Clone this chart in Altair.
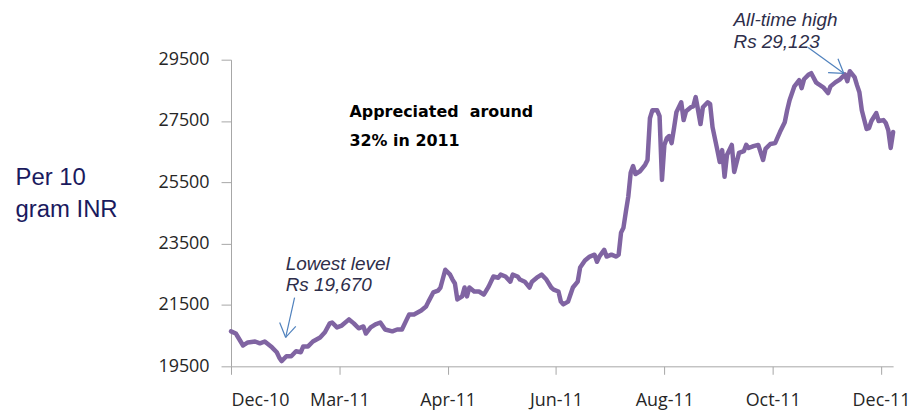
import json
import altair as alt
import pandas as pd

# trading-day index (category position) and gold price, Rs per 10 gram
days = [0, 2, 5, 7, 10, 12, 14, 17, 19, 20, 21, 23, 25, 27, 29, 30, 32, 34, 37, 39,
        41, 42, 44, 46, 49, 51, 53, 55, 56, 58, 60, 62, 64, 67, 69, 71, 73, 74, 76, 79,
        81, 82, 84, 86, 87, 89, 91, 92, 93, 94, 96, 97, 98, 99, 101, 103, 105, 107, 109, 111,
        112, 114, 116, 117, 119, 120, 122, 124, 125, 127, 129, 131, 133, 134, 136, 137, 138, 140, 141, 142,
        144, 145, 147, 149, 151, 152, 153, 155, 156, 158, 160, 161, 162, 163, 164, 165, 166, 167, 168, 170,
        172, 173, 174, 175, 177, 178, 179, 180, 181, 182, 183, 184, 185, 187, 188, 189, 191, 192, 193, 194,
        195, 196, 198, 199, 200, 202, 203, 204, 205, 206, 208, 209, 211, 213, 214, 215, 217, 219, 221, 222,
        224, 226, 228, 230, 231, 232, 234, 236, 237, 238, 240, 241, 243, 244, 246, 248, 249, 251, 253, 255,
        256, 257, 259, 260, 261, 262, 264, 265, 266, 268, 269, 271, 272, 273, 274, 275]
prices = [20640, 20570, 20180, 20280, 20310, 20250, 20310, 20120, 19960, 19790, 19670, 19830, 19830, 19990, 19960, 20150, 20150, 20310, 20440, 20610,
          20900, 20930, 20770, 20830, 21030, 20900, 20740, 20800, 20570, 20770, 20870, 20930, 20700, 20640, 20700, 20700, 21030, 21190, 21190, 21320,
          21450, 21610, 21910, 21970, 22070, 22650, 22490, 22330, 22200, 21680, 21780, 22070, 21780, 22070, 21940, 21940, 21840, 22100, 22430, 22390,
          22490, 22430, 22260, 22490, 22430, 22330, 22260, 22070, 22260, 22390, 22490, 22330, 22070, 22000, 21940, 21610, 21520, 21610, 21840, 22070,
          22260, 22720, 22950, 23080, 23140, 22910, 23080, 23300, 23080, 23140, 23080, 23140, 23860, 24020, 24540, 25030, 25810, 26030, 25770, 25870,
          26070, 26230, 27590, 27850, 27850, 27660, 25580, 26720, 26940, 27010, 26780, 27270, 27790, 28110, 27530, 27820, 27950, 27980, 28280, 27850,
          27400, 27950, 28110, 28050, 27300, 26550, 26160, 26550, 25680, 26390, 26720, 25840, 26460, 26520, 26720, 26620, 26680, 26720, 26230, 26590,
          26750, 26780, 27140, 27460, 27850, 28180, 28630, 28830, 28570, 28860, 29020, 29060, 28760, 28700, 28600, 28410, 28630, 28760, 28860, 29020,
          28800, 29123, 28930, 28670, 28440, 27850, 27240, 27270, 27500, 27760, 27500, 27530, 27430, 27200, 26620, 27140]

tick_days = [0, 45, 90, 135, 180, 225, 270]
tick_labels = ["Dec-10", "Mar-11", "Apr-11", "Jun-11", "Aug-11", "Oct-11", "Dec-11"]
y_ticks = [19500, 21500, 23500, 25500, 27500, 29500]

ann_text = ["Lowest level", "Rs 19,670", "All-time high", "Rs 29,123"]
ann_day = [22.7, 22.7, 208.7, 208.7]
ann_val = [22652, 21970, 30582, 29867]

note_text = ["Appreciated\u00a0\u00a0around", "32% in 2011"]
note_day = [49.2, 49.2]
note_val = [27625, 26682]

arrow_day = [26.4, 20.2, 26.9, 239.7, 252.1, 248.0]
arrow_val = [21743, 20930, 20800, 29900, 29533, 29078]
arrow_day2 = [22.7, 22.7, 22.7, 254.5, 254.5, 254.5]
arrow_val2 = [20443, 20443, 20443, 29055, 29055, 29055]

series = pd.DataFrame({"day": days, "price": prices})
ann = pd.DataFrame({"day": ann_day, "price": ann_val, "text": ann_text})
notes = pd.DataFrame({"day": note_day, "price": note_val, "text": note_text})
arrows = pd.DataFrame({"day": arrow_day, "price": arrow_val, "day2": arrow_day2, "price2": arrow_val2})

label_expr = json.dumps(tick_labels) + "[indexof(" + json.dumps(tick_days) + ", datum.value)]"

axis_col = "#a6a6a6"
x_scale = alt.Scale(domain=[0, 275], nice=False, zero=False)
y_scale = alt.Scale(domain=[19500, 29500], nice=False, zero=False)
x_axis = alt.Axis(values=tick_days, labelExpr=label_expr, grid=False, tickSize=8,
                  domainColor=axis_col, tickColor=axis_col, labelFont="Open Sans",
                  labelFontSize=18, labelColor="#262626", labelPadding=17, title=None)
y_axis = alt.Axis(values=y_ticks, format="d", grid=False, tickSize=10,
                  domainColor=axis_col, tickColor=axis_col, labelFont="Open Sans",
                  labelFontSize=18, labelColor="#262626", labelPadding=12,
                  title=["Per 10", "gram INR"], titleAngle=0, titleAlign="left",
                  titleBaseline="alphabetic", titleX=-217, titleY=125,
                  titleFont="Liberation Sans", titleFontSize=24, titleFontWeight="normal",
                  titleColor="#1a1a5e", titleLineHeight=33)

X = alt.X("day:Q", scale=x_scale, axis=x_axis)
Y = alt.Y("price:Q", scale=y_scale, axis=y_axis)

line = alt.Chart(series).mark_line(color="#8064a2", strokeWidth=4.5,
                                   strokeJoin="round", strokeCap="round").encode(x=X, y=Y)

arrow_layer = alt.Chart(arrows).mark_rule(color="#4f81bd", strokeWidth=1.2).encode(
    x=X, y=Y, x2="day2:Q", y2="price2:Q")

ann_layer = alt.Chart(ann).mark_text(align="left", baseline="alphabetic", font="Liberation Sans",
                                     fontSize=19, fontStyle="italic", color="#2e2e4a").encode(
    x=X, y=Y, text="text:N")

note_layer = alt.Chart(notes).mark_text(align="left", baseline="alphabetic", font="DejaVu Sans",
                                        fontSize=16, fontWeight="bold", color="#000000").encode(
    x=X, y=Y, text="text:N")

chart = alt.layer(line, arrow_layer, ann_layer, note_layer).properties(
    width=665, height=308,
    autosize=alt.AutoSizeParams(type="none"),
    padding={"left": 224, "top": 51, "right": 23, "bottom": 52},
).configure_view(stroke=None)

chart.save("out.html", embed_options={"renderer": "svg", "actions": False})
